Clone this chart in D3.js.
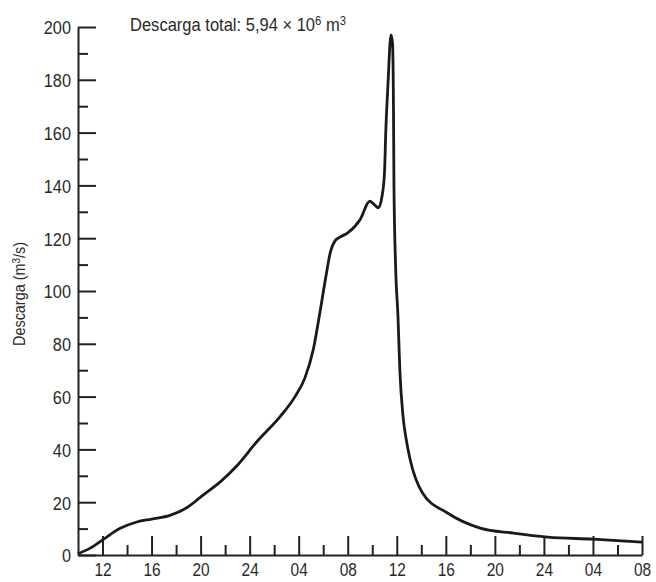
<!DOCTYPE html>
<html>
<head>
<meta charset="utf-8">
<script src="https://cdn.jsdelivr.net/npm/d3@7"></script>
<style>
  body { margin: 0; background: #fff; }
  svg text { font-family: "Liberation Sans", Arial, sans-serif; fill: #2a2a2a; }
</style>
</head>
<body>
<svg id="chart" width="656" height="582"></svg>
<script>
(function () {
    // hours counted from 10:00 on the first day
    var hours = [0, 1, 2, 3.4, 4.8, 6, 7.5, 8.9, 10.2, 11.6, 13, 14.6, 16.5, 17.7, 18.5, 19.2, 19.7, 20.2, 20.6, 20.96,
        21.4, 22, 23, 23.8, 24.1, 24.5, 24.8, 25, 25.1, 25.3, 25.45, 25.53, 25.65, 25.73, 25.77, 25.9, 26.1, 26.25,
        26.5, 26.8, 27.1, 28.1, 30.1, 32.8, 35.5, 38.3, 42, 46];
    var discharge = [0.5, 2.6, 5.7, 10, 12.5, 13.6, 15, 18, 22.7, 27.7, 34, 43, 52.5, 60, 67, 78, 91, 105, 115, 119,
        120.5, 122, 127, 134, 133, 131.5, 136, 145, 160, 180, 194, 197, 194, 170, 140, 110, 90, 70,
        53, 43, 36, 23.5, 16, 10.2, 8.3, 6.8, 6, 4.9];

    var xMajorHours = [2, 6, 10, 14, 18, 22, 26, 30, 34, 38, 42, 46];
    var xMajorLabels = ["12", "16", "20", "24", "04", "08", "12", "16", "20", "24", "04", "08"];
    var xMinorHours = [4, 8, 12, 16, 20, 24, 28, 32, 36, 40, 44];
    var yMajor = [0, 20, 40, 60, 80, 100, 120, 140, 160, 180, 200];
    var yMinor = [10, 30, 50, 70, 90, 110, 130, 150, 170, 190];

    var data = hours.map(function (h, i) { return { h: h, v: discharge[i] }; });

    //the lettering in the picture is a narrow grotesque, so squeeze Liberation Sans a bit
    function squeeze(sel, k) {
        sel.each(function () {
            var el = d3.select(this);
            var x0 = +(el.attr("x") || 0);
            el.attr("x", x0 / k).attr("transform", "scale(" + k + ",1)");
        });
    }

    var svg = d3.select("#chart");
    var x = d3.scaleLinear().domain([0, 46]).range([78, 642]);
    var y = d3.scaleLinear().domain([0, 200]).range([555, 27]);

    //y axis, ticks point inward
    var yAxis = svg.append("g").attr("transform", "translate(78,0)")
        .call(d3.axisLeft(y).tickValues(yMajor).tickSizeInner(-18).tickSizeOuter(0).tickPadding(7));
    svg.append("g").attr("transform", "translate(78,0)")
        .call(d3.axisLeft(y).tickValues(yMinor).tickSizeInner(-10).tickSizeOuter(0).tickFormat(""))
        .select(".domain").remove();

    //x axis
    var xAxis = svg.append("g").attr("transform", "translate(0,555)")
        .call(d3.axisBottom(x).tickValues(xMajorHours).tickSizeInner(-19).tickSizeOuter(0).tickPadding(8)
            .tickFormat(function (d, i) { return xMajorLabels[i]; }));
    svg.append("g").attr("transform", "translate(0,555)")
        .call(d3.axisBottom(x).tickValues(xMinorHours).tickSizeInner(-10).tickSizeOuter(0).tickFormat(""))
        .select(".domain").remove();

    svg.selectAll(".domain, .tick line").attr("stroke", "#222").attr("stroke-width", 2);
    yAxis.selectAll(".tick text").attr("font-size", 19).attr("dy", "0.36em").attr("fill", "#2a2a2a").call(squeeze, 0.86);
    xAxis.selectAll(".tick text").attr("font-size", 18).attr("fill", "#2a2a2a").call(squeeze, 0.86);

    //the hydrograph
    var line = d3.line().x(function (d) { return x(d.h); }).y(function (d) { return y(d.v); })
        .curve(d3.curveMonotoneX);
    svg.append("path").datum(data).attr("d", line)
        .attr("fill", "none").attr("stroke", "#1a1a1a").attr("stroke-width", 2.8)
        .attr("stroke-linejoin", "round");

    //title
    var t = svg.append("text").attr("transform", "translate(130,31) scale(0.87,1)").attr("font-size", 19);
    t.append("tspan").text("Descarga total: 5,94 \u00d7 10");
    t.append("tspan").attr("font-size", 13).attr("dy", -6).text("6");
    t.append("tspan").attr("dy", 6).text(" m");
    t.append("tspan").attr("font-size", 13).attr("dy", -6).text("3");

    //y label
    var yl = svg.append("text").attr("transform", "translate(25,294) rotate(-90) scale(0.9,1)")
        .attr("text-anchor", "middle").attr("font-size", 16);
    yl.append("tspan").text("Descarga (m");
    yl.append("tspan").attr("font-size", 11).attr("dy", -5).text("3");
    yl.append("tspan").attr("dy", 5).text("/s)");
})();
</script>
</body>
</html>
